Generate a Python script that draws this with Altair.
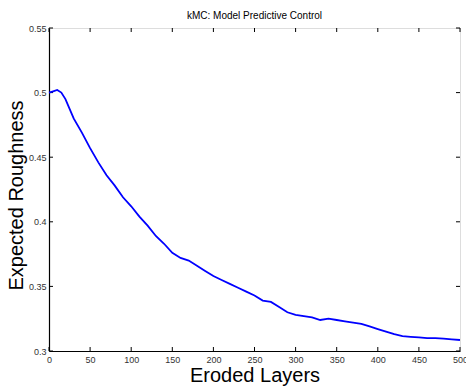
import altair as alt
import pandas as pd

layers = [0, 5, 10, 15, 20, 30, 40, 50, 60, 70, 80, 90, 100, 110, 120, 130, 140, 150,
          160, 170, 180, 190, 200, 210, 220, 230, 240, 250, 260, 270, 280, 290, 300,
          310, 320, 330, 340, 350, 360, 370, 380, 390, 400, 410, 420, 430, 440, 450,
          460, 470, 480, 490, 500]
roughness = [0.500, 0.501, 0.502, 0.500, 0.495, 0.480, 0.469, 0.457, 0.446, 0.436,
             0.428, 0.419, 0.412, 0.404, 0.397, 0.389, 0.383, 0.376, 0.372, 0.370,
             0.366, 0.362, 0.358, 0.355, 0.352, 0.349, 0.346, 0.343, 0.339, 0.338,
             0.334, 0.330, 0.328, 0.327, 0.326, 0.324, 0.325, 0.324, 0.323, 0.322,
             0.321, 0.319, 0.317, 0.315, 0.313, 0.3115, 0.311, 0.3105, 0.310, 0.310,
             0.3095, 0.309, 0.3085]
x_ticks = [0, 50, 100, 150, 200, 250, 300, 350, 400, 450, 500]
y_ticks = [0.3, 0.35, 0.4, 0.45, 0.5, 0.55]
title_text = ["kMC: Model Predictive Control"]

W, H = 411, 323
FONT = "Liberation Sans"

df = pd.DataFrame({"layer": layers, "rough": roughness})
xt = pd.DataFrame({"t": x_ticks})
yt = pd.DataFrame({"t": y_ticks})
tt = pd.DataFrame({"label": title_text})

xscale = alt.Scale(domain=[0, 500], nice=False, zero=False)
yscale = alt.Scale(domain=[0.3, 0.55], nice=False, zero=False)

xaxis = alt.Axis(values=x_ticks, ticks=False, grid=False, labelPadding=4,
                 labelFontSize=9, labelColor="#333333", labelFont=FONT,
                 domainColor="black", domainWidth=1.2, format="d",
                 title="Eroded Layers", titleFont=FONT, titleFontSize=20,
                 titleFontWeight="normal", titleColor="black",
                 titleX=W / 2, titleY=30, titleBaseline="alphabetic",
                 titleAnchor="middle", labelFlush=False)
yaxis = alt.Axis(values=y_ticks, ticks=False, grid=False, labelPadding=3,
                 labelFontSize=9, labelColor="#333333", labelFont=FONT,
                 domainColor="black", domainWidth=1.2, format=".2~f",
                 title="Expected Roughness", titleFont=FONT, titleFontSize=20,
                 titleFontWeight="normal", titleColor="black",
                 titleAngle=-90, titleX=-26.5, titleY=167,
                 titleBaseline="alphabetic", titleAlign="center",
                 labelFlush=False)

line = alt.Chart(df).mark_line(color="#0000ff", strokeWidth=1.8).encode(
    x=alt.X("layer:Q", scale=xscale, axis=xaxis),
    y=alt.Y("rough:Q", scale=yscale, axis=yaxis),
)

tick_bottom = alt.Chart(xt).mark_rule(color="black", strokeWidth=1).encode(
    x=alt.X("t:Q", scale=xscale), y=alt.value(H), y2=alt.value(H - 4))
tick_top = alt.Chart(xt).mark_rule(color="black", strokeWidth=1).encode(
    x=alt.X("t:Q", scale=xscale), y=alt.value(0), y2=alt.value(4))
tick_left = alt.Chart(yt).mark_rule(color="black", strokeWidth=1).encode(
    y=alt.Y("t:Q", scale=yscale), x=alt.value(0), x2=alt.value(4))
tick_right = alt.Chart(yt).mark_rule(color="black", strokeWidth=1).encode(
    y=alt.Y("t:Q", scale=yscale), x=alt.value(W), x2=alt.value(W - 4))

title = alt.Chart(tt).mark_text(font=FONT, fontSize=10, color="black",
                                align="center", baseline="alphabetic").encode(
    text="label:N", x=alt.value(W / 2), y=alt.value(-9.5))

chart = alt.layer(tick_bottom, tick_top, tick_left, tick_right, line, title).properties(
    width=W, height=H,
    autosize=alt.AutoSizeParams(type="none"),
    padding={"left": 49, "top": 28, "right": 6, "bottom": 40},
).configure_view(stroke="black", strokeWidth=1.2).configure(background="white")

chart.save("out.html", embed_options={"renderer": "svg", "actions": False})
